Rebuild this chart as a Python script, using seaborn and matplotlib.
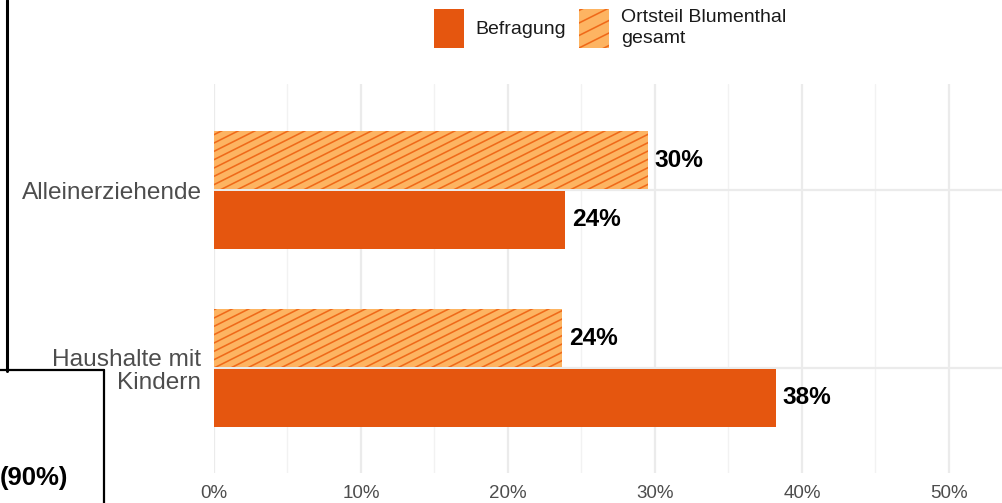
import pandas as pd
import matplotlib.pyplot as plt
import matplotlib.hatch as mhatch
import seaborn as sns
import numpy as np
from matplotlib.patches import Patch
from matplotlib.lines import Line2D
from matplotlib.path import Path

# Daten
gruppen = ["Alleinerziehende", "Haushalte mit\nKindern"]
befragung = [23.9, 38.2]
ortsteil = [29.5, 23.7]
befragung_labels = ["24%", "38%"]
ortsteil_labels = ["30%", "24%"]
x_ticks = [0, 10, 20, 30, 40, 50]

name_bef = "Befragung"
name_ort = "Ortsteil Blumenthal\ngesamt"

df = pd.DataFrame({
    "Gruppe": gruppen * 2,
    "Wert": ortsteil + befragung,
    "Quelle": [name_ort] * 2 + [name_bef] * 2,
})

farbe_bef = "#E5560F"
farbe_ort = "#FDB462"
farbe_hatch = "#EF6A1A"


# flachere Schraffur (Steigung 0.5) statt der 45-Grad-Linien von '/'
class FlacheSchraffur(mhatch.HatchPatternBase):
    def __init__(self, hatch, density):
        self.num_lines = 4 * hatch.count('/')
        self.k = np.arange(-self.num_lines - 2, self.num_lines + 2)
        self.num_vertices = len(self.k) * 2 if self.num_lines else 0

    def set_vertices_and_codes(self, vertices, codes):
        c = self.k / self.num_lines
        vertices[0::2, 0] = -0.2
        vertices[0::2, 1] = c - 0.1
        vertices[1::2, 0] = 1.2
        vertices[1::2, 1] = c + 0.6
        codes[0::2] = Path.MOVETO
        codes[1::2] = Path.LINETO


mhatch._hatch_types = [FlacheSchraffur if t is mhatch.NorthEastHatch else t
                       for t in mhatch._hatch_types]

sns.set_theme(style="white")
plt.rcParams["font.family"] = ["Liberation Sans", "DejaVu Sans"]
plt.rcParams["hatch.color"] = farbe_hatch
plt.rcParams["hatch.linewidth"] = 1.15

fig = plt.figure(figsize=(10.03, 5.03), dpi=100)
W, H = 1003, 503
ax = fig.add_axes([214 / W, (H - 473) / H, (W - 214) / W, (473 - 84) / H])

sns.barplot(data=df, x="Wert", y="Gruppe", hue="Quelle", hue_order=[name_ort, name_bef],
            palette={name_ort: farbe_ort, name_bef: farbe_bef}, orient="h",
            width=0.67, gap=0.03, legend=False, ax=ax, saturation=1)

# Schraffur fuer Ortsteil
for bar in ax.containers[0]:
    bar.set_hatch("///")
    bar.set_edgecolor(farbe_hatch)
    bar.set_linewidth(0)
    if hasattr(bar, "set_hatchcolor"):
        bar.set_hatchcolor(farbe_hatch)
for bar in ax.containers[1]:
    bar.set_linewidth(0)

ax.bar_label(ax.containers[0], labels=ortsteil_labels, padding=5, fontsize=17.6,
             fontweight="bold", color="black")
ax.bar_label(ax.containers[1], labels=befragung_labels, padding=5, fontsize=17.6,
             fontweight="bold", color="black")

ax.set_xlim(0, (W - 214) / 14.7)
ax.set_ylim(1.59, -0.596)
ax.set_xticks(x_ticks)
ax.set_xticklabels([f"{t}%" for t in x_ticks])
ax.set_xticks([5, 15, 25, 35, 45], minor=True)
ax.grid(which="major", axis="both", color="#EBEBEB", linewidth=1.6)
ax.grid(which="minor", axis="x", color="#F2F2F2", linewidth=1.0)
ax.set_axisbelow(True)
for s in ax.spines.values():
    s.set_visible(False)
ax.tick_params(axis="both", which="both", length=0)
ax.tick_params(axis="x", pad=9, labelsize=13.5, labelcolor="#4D4D4D")
ax.tick_params(axis="y", pad=9, labelsize=17.6, labelcolor="#4D4D4D")
for t in ax.get_yticklabels():
    t.set_linespacing(1.1)
ax.set_xlabel("")
ax.set_ylabel("")

# Legende oben
handles = [
    Patch(facecolor=farbe_bef, edgecolor=farbe_bef, linewidth=0),
    Patch(facecolor=farbe_ort, edgecolor=farbe_hatch, hatch="//", linewidth=0),
]
leg = fig.legend(handles, [name_bef, name_ort], loc="upper left",
                 bbox_to_anchor=(434 / W, 1 - 9 / H), ncol=2, frameon=False,
                 fontsize=14, handlelength=1.54, handleheight=2.7, handletextpad=0.6,
                 columnspacing=0.67, borderpad=0, borderaxespad=0, labelcolor="#1A1A1A")
for t in leg.get_texts():
    t.set_linespacing(1.3)

# ueberlagernde Elemente links
fig.add_artist(Line2D([7.5 / W, 7.5 / W], [1, (H - 371) / H], color="black", linewidth=2.2))
fig.add_artist(Line2D([0, 104 / W], [(H - 369.5) / H, (H - 369.5) / H], color="black", linewidth=1.6))
fig.add_artist(Line2D([104 / W, 104 / W], [(H - 369.5) / H, 0], color="black", linewidth=1.6))
fig.text(68 / W, (H - 478) / H, "(90%)", ha="right", va="center", fontsize=18.5,
         fontweight="bold", color="black")

plt.savefig("out.png", dpi=100)
plt.close()
